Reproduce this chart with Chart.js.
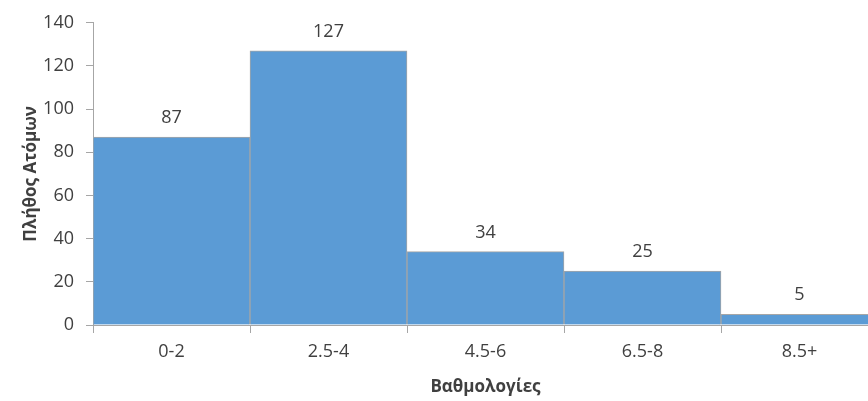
<!DOCTYPE html>
<html>
<head>
<meta charset="utf-8">
<script src="https://cdn.jsdelivr.net/npm/chart.js@4/dist/chart.umd.min.js"></script>
<style>
  html, body { margin: 0; padding: 0; background: #fff; overflow: hidden; }
  #wrap { width: 880px; height: 401px; }
</style>
</head>
<body>
<div id="wrap"><canvas id="c" width="880" height="401"></canvas></div>
<script>
// Score bands and number of people in each
const categories = ['0-2', '2.5-4', '4.5-6', '6.5-8', '8.5+'];
const counts = [87, 127, 34, 25, 5];
const yTicks = [0, 20, 40, 60, 80, 100, 120, 140];

const FONT = '"Open Sans", "Noto Sans", sans-serif';
const TEXT = '#404040';
const LINE = '#A6A6A6';

// Draws the count above each bar
const valueLabels = {
  id: 'valueLabels',
  afterDatasetsDraw(chart) {
    const ctx = chart.ctx;
    const meta = chart.getDatasetMeta(0);
    ctx.save();
    ctx.font = '18px ' + FONT;
    ctx.fillStyle = TEXT;
    ctx.textAlign = 'center';
    ctx.textBaseline = 'alphabetic';
    meta.data.forEach((bar, i) => {
      ctx.fillText(String(counts[i]), bar.x, bar.y - 14);
    });
    ctx.restore();
  }
};

new Chart(document.getElementById('c'), {
  type: 'bar',
  data: {
    labels: categories,
    datasets: [{
      data: counts,
      backgroundColor: '#5B9BD5',
      borderColor: LINE,
      borderWidth: 1,
      categoryPercentage: 1,
      barPercentage: 1
    }]
  },
  options: {
    responsive: false,
    animation: false,
    layout: { padding: { left: 0, right: 2, top: 21, bottom: 0 } },
    plugins: { legend: { display: false }, tooltip: { enabled: false } },
    scales: {
      x: {
        grid: { display: true, drawOnChartArea: false, drawTicks: true, tickLength: 8, color: LINE, offset: true },
        border: { display: true, color: LINE, width: 1 },
        ticks: { color: TEXT, font: { family: FONT, size: 18 }, padding: 8, maxRotation: 0 },
        title: { display: true, text: 'Βαθμολογίες', color: TEXT, font: { family: FONT, size: 17, weight: 'bold' }, padding: { top: 12, bottom: 4 } },
        afterFit(scale) { scale.height = 76; }
      },
      y: {
        min: 0, max: 140,
        afterBuildTicks(scale) { scale.ticks = yTicks.map(v => ({ value: v })); },
        grid: { display: true, drawOnChartArea: false, drawTicks: true, tickLength: 7, color: LINE },
        border: { display: true, color: LINE, width: 1 },
        ticks: { color: TEXT, font: { family: FONT, size: 18 }, padding: 12 },
        title: { display: true, text: 'Πλήθος Ατόμων', color: TEXT, font: { family: FONT, size: 17, weight: 'bold' }, padding: { bottom: 8, top: 21 } },
        afterFit(scale) { scale.width = 93; }
      }
    }
  },
  plugins: [valueLabels]
});
</script>
</body>
</html>
